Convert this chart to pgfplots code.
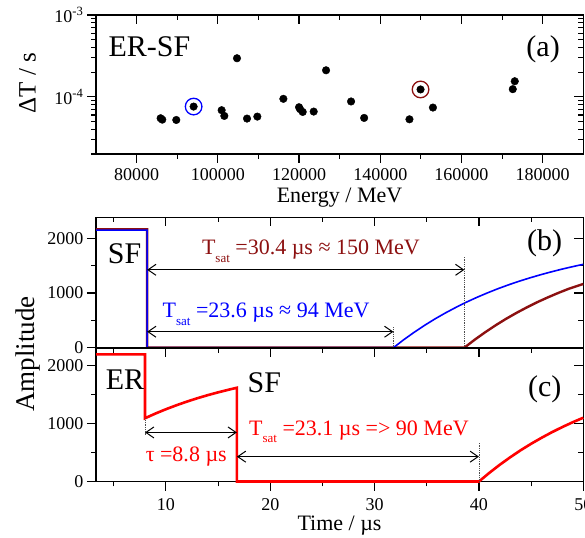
\documentclass[border=0pt]{standalone}
\usepackage{fontspec}
\setmainfont{Liberation Serif}
\usepackage{pgfplots}
\pgfplotsset{compat=1.18}
\usetikzlibrary{arrows.meta}
\definecolor{dred}{RGB}{140,16,16}
\newcommand{\bigf}{\fontsize{30}{32}\selectfont}
\newcommand{\annf}{\fontsize{22}{24}\selectfont}
\newcommand{\Tsat}{T\raisebox{-0.35em}{\fontsize{13}{13}\selectfont sat}}
\tikzset{dim/.style={{Straight Barb[length=8pt,width=11pt]}-{Straight Barb[length=8pt,width=11pt]}, line width=1pt, black},
  vdot/.style={densely dotted, line width=0.8pt, black!70}}
\pgfplotsset{
  myax/.style={scale only axis, width=487.3pt, anchor=south west,
    axis line style={line width=1.2pt}, tick style={line width=1.1pt, black},
    major tick length=9pt, minor tick length=5pt,
    tick label style={font=\rmfamily\fontsize{18}{18}\selectfont},
    /pgf/number format/assume math mode=true,
    /pgf/number format/1000 sep={}, clip=false},
  outer/.style={tick align=outside, xtick pos=left, ytick pos=left},
  inner/.style={tick align=inside, xtick pos=right, ytick pos=right, xticklabels={}, yticklabels={}},
  panelA/.style={myax, at={(96pt,383pt)}, height=139pt,
    xmin=70000, xmax=190000, ymin=2e-5, ymax=1e-3,
    xtick={80000,100000,120000,140000,160000,180000},
    minor xtick={90000,110000,130000,150000,170000},
    ytick={1e-4,1e-3},
    minor ytick={2e-5,3e-5,4e-5,5e-5,6e-5,7e-5,8e-5,9e-5,2e-4,3e-4,4e-4,5e-4,6e-4,7e-4,8e-4,9e-4},
    scaled x ticks=false,
    xticklabel style={/pgf/number format/fixed,/pgf/number format/1000 sep={}, yshift=-2pt}},
  panelB/.style={myax, at={(96pt,189.3pt)}, height=130.4pt,
    xmin=3.3, xmax=50, ymin=0, ymax=2384,
    xtick={10,20,30,40,50}, minor xtick={5,15,25,35,45},
    ytick={0,1000,2000}, minor ytick={500,1500}},
  panelC/.style={myax, at={(96pt,55.5pt)}, height=133.5pt,
    xmin=3.3, xmax=50, ymin=0, ymax=2300,
    xtick={10,20,30,40,50}, minor xtick={5,15,25,35,45},
    ytick={0,1000,2000}, minor ytick={500,1500},
    xticklabel style={inner sep=1pt, yshift=-7pt}},
}
\begin{document}
\begin{tikzpicture}
\useasboundingbox (0,0) rectangle (585pt,537pt);

% ---------- panel (a) ----------
\begin{semilogyaxis}[panelA, inner]
\end{semilogyaxis}
\begin{semilogyaxis}[panelA, outer, yticklabels={10\textsuperscript{-4},10\textsuperscript{-3}}]
\addplot[only marks, mark=*, mark size=3.8pt, black] coordinates {
(85910,5.47e-5) (86320,5.26e-5) (89770,5.21e-5) (94040,7.6e-5)
(100940,6.86e-5) (101600,5.84e-5) (104720,2.96e-4) (107190,5.42e-5)
(109730,5.73e-5) (116140,9.45e-5) (120000,7.46e-5) (120250,7.07e-5)
(120900,6.53e-5) (123610,6.6e-5) (126650,2.11e-4) (132810,8.77e-5)
(136030,5.52e-5) (147190,5.31e-5) (149920,1.23e-4) (152970,7.39e-5)
(172630,1.24e-4) (173120,1.55e-4)
};
\addplot[only marks, mark=o, mark size=8.3pt, blue, mark options={line width=1.3pt}] coordinates {(94040,7.6e-5)};
\addplot[only marks, mark=o, mark size=8.3pt, dred, mark options={line width=1.3pt}] coordinates {(149920,1.23e-4)};
\node[anchor=base west, font=\bigf] at (axis cs:72217,3.07e-4) {ER-SF};
\node[anchor=center, font=\bigf] at (axis cs:180100,3.82e-4) {(a)};
\end{semilogyaxis}

% ---------- panel (b) ----------
\begin{axis}[panelB, inner]
\end{axis}
\begin{axis}[panelB, outer, xticklabels={}]
\addplot[dred, line width=2.4pt] coordinates {
(3.3,2165) (8.2,2165) (8.2,0) (38.6,0) (39.6,147) (40.6,283) (41.6,410) (42.6,528)
(43.6,637) (44.6,738) (45.6,833) (46.6,920) (47.6,1001) (48.6,1077) (49.6,1140) (50,1165)
};
\addplot[blue, line width=1.6pt] coordinates {
(3.3,2150) (8.2,2150) (8.2,0) (31.8,0) (32.8,147) (33.8,283) (34.8,410) (35.8,528)
(36.8,637) (37.8,738) (38.8,833) (39.8,920) (40.8,1001) (41.8,1077) (42.8,1147)
(43.8,1212) (44.8,1272) (45.8,1328) (46.8,1380) (47.8,1429) (48.8,1474) (49.8,1516) (50,1524)
};
\draw[vdot] (axis cs:38.6,0) -- (axis cs:38.6,1650);
\draw[vdot] (axis cs:31.8,0) -- (axis cs:31.8,370);
\draw[dim] (axis cs:8.2,1424) -- (axis cs:38.6,1424);
\draw[dim] (axis cs:8.2,292) -- (axis cs:31.8,292);
\node[anchor=base, font=\annf, text=dred] at (axis cs:23.9,1700) {\Tsat\ =30.4 µs ≈ 150 MeV};
\node[anchor=base, font=\annf, text=blue] at (axis cs:19.6,545) {\Tsat\ =23.6 µs ≈ 94 MeV};
\node[anchor=base west, font=\bigf] at (axis cs:4.1,1543) {SF};
\node[anchor=center, font=\bigf] at (axis cs:46.3,1914) {(b)};
\end{axis}

% ---------- panel (c) ----------
\begin{axis}[panelC, inner]
\end{axis}
\begin{axis}[panelC, outer]
\addplot[red, line width=2.6pt] coordinates {
(3.3,2190) (8.0,2190) (8.0,1090) (9,1171) (10,1245) (11,1313) (12,1376) (13,1434)
(14,1487) (15,1536) (16,1581) (16.8,1615) (16.8,0) (40,0) (41,150) (42,289) (43,418)
(44,539) (45,650) (46,753) (47,850) (48,939) (49,1022) (50,1099)
};
\draw[vdot] (axis cs:8.0,1090) -- (axis cs:8.0,790);
\draw[vdot] (axis cs:40,0) -- (axis cs:40,680);
\draw[dim] (axis cs:8.0,845) -- (axis cs:16.8,845);
\draw[dim] (axis cs:16.8,428) -- (axis cs:40,428);
\node[anchor=base, font=\annf, text=red] at (axis cs:11.95,353) {τ =8.8 µs};
\node[anchor=base, font=\annf, text=red] at (axis cs:28.5,800) {\Tsat\ =23.1 µs => 90 MeV};
\node[anchor=base west, font=\bigf] at (axis cs:3.9,1578) {ER};
\node[anchor=base west, font=\bigf] at (axis cs:17.5,1526) {SF};
\node[anchor=center, font=\bigf] at (axis cs:46.3,1595) {(c)};
\end{axis}

% ---------- axis labels ----------
\node[rotate=90, font=\fontsize{25}{25}\selectfont] at (27.5pt,454pt) {ΔT / s};
\node[anchor=base, font=\fontsize{22}{24}\selectfont] at (339.5pt,334pt) {Energy / MeV};
\node[rotate=90, font=\fontsize{27}{27}\selectfont] at (28pt,183pt) {Amplitude};
\node[anchor=base, font=\fontsize{22}{24}\selectfont, inner sep=1pt] at (339.5pt,6pt) {Time / µs};
\end{tikzpicture}
\end{document}
